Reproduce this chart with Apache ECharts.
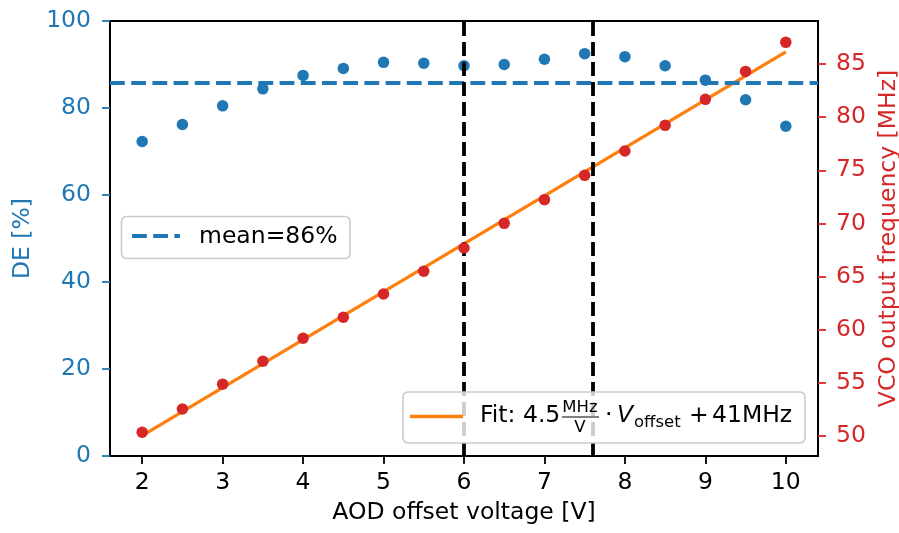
<!DOCTYPE html>
<html>
<head>
<meta charset="utf-8">
<title>AOD offset voltage sweep</title>
<script src="https://cdn.jsdelivr.net/npm/echarts@6/dist/echarts.min.js"></script>
<style>
  html, body { margin: 0; padding: 0; background: #ffffff; }
  #chart { width: 899px; height: 533px; }
</style>
</head>
<body>
<div id="chart"></div>
<script>
// Offset voltage applied to the AOD driver [V]
const voltage = [2, 2.5, 3, 3.5, 4, 4.5, 5, 5.5, 6, 6.5, 7, 7.5, 8, 8.5, 9, 9.5, 10];
// Diffraction efficiency at each voltage [%]
const deEfficiency = [72.3, 76.2, 80.5, 84.4, 87.5, 89.1, 90.5, 90.3, 89.7, 90.0, 91.2, 92.5, 91.8, 89.7, 86.4, 81.9, 75.8];
// Measured VCO output frequency [MHz]
const vcoFrequency = [50.35, 52.54, 54.88, 57.03, 59.2, 61.17, 63.36, 65.5, 67.69, 70.01, 72.24, 74.53, 76.82, 79.23, 81.68, 84.31, 87.04];
// Operating window boundaries [V]
const windowVoltages = [6, 7.6];
// Tick labels
const xTicks = [2, 3, 4, 5, 6, 7, 8, 9, 10];
const freqTicks = [50, 55, 60, 65, 70, 75, 80, 85];

const BLUE = '#1f77b4', RED = '#d62728', ORANGE = '#ff7f0e';
const FONT = 'DejaVu Sans';
const FS = 23.5;

// Mean efficiency
const meanDE = deEfficiency.reduce((a, b) => a + b, 0) / deEfficiency.length;

// Least-squares linear fit of frequency vs voltage
const n = voltage.length;
const mx = voltage.reduce((a, b) => a + b, 0) / n;
const my = vcoFrequency.reduce((a, b) => a + b, 0) / n;
let sxy = 0, sxx = 0;
for (let i = 0; i < n; i++) {
  sxy += (voltage[i] - mx) * (vcoFrequency[i] - my);
  sxx += (voltage[i] - mx) * (voltage[i] - mx);
}
const slope = sxy / sxx;
const intercept = my - slope * mx;
const xFirst = voltage[0], xLast = voltage[n - 1];
const fitLine = [[xFirst, slope * xFirst + intercept], [xLast, slope * xLast + intercept]];

const chart = echarts.init(document.getElementById('chart'), null, { renderer: 'canvas' });

const axisFont = { fontFamily: FONT, fontSize: FS };

// Legend boxes
const box = (x, y, w, h) => ({
  type: 'rect', shape: { x, y, width: w, height: h, r: 5 },
  style: { fill: 'rgba(255,255,255,0.8)', stroke: '#cccccc', lineWidth: 1.7 }, z: 20
});
const txt = (x, y, text, extra) => ({
  type: 'text', z: 21,
  style: Object.assign({ x, y, text, fill: '#000', fontFamily: FONT, fontSize: FS,
    align: 'left', verticalAlign: 'middle' }, extra || {})
});

const graphics = [
  box(121.5, 216.5, 228.5, 42),
  { type: 'line', z: 21, shape: { x1: 132, y1: 236, x2: 180, y2: 236 },
    style: { stroke: BLUE, lineWidth: 4, lineDash: [14.8, 6.4] } },
  txt(199, 237, 'mean=' + Math.round(meanDE) + '%'),

  box(403, 392, 402, 51),
  { type: 'line', z: 21, shape: { x1: 410, y1: 416.5, x2: 463, y2: 416.5 },
    style: { stroke: ORANGE, lineWidth: 3.3 } },
  txt(480, 416, 'Fit: ' + slope.toFixed(1)),
  txt(580, 408, 'MHz', { fontSize: 16.5, align: 'center' }),
  { type: 'line', z: 21, shape: { x1: 562, y1: 417, x2: 599, y2: 417 },
    style: { stroke: '#000', lineWidth: 1.2 } },
  txt(580, 427.5, 'V', { fontSize: 16.5, align: 'center' }),
  txt(605, 416, '\u00b7'),
  txt(617, 416, 'V', { fontStyle: 'italic' }),
  txt(634, 423, 'offset', { fontSize: 16.5 }),
  txt(689, 416, '+'),
  txt(712, 416, Math.round(intercept) + 'MHz')
];

chart.setOption({
  animation: false,
  backgroundColor: '#ffffff',
  grid: {
    left: 110, right: 81, top: 21, bottom: 77,
    containLabel: false, outerBoundsMode: 'none',
    show: true, borderColor: '#000', borderWidth: 2, backgroundColor: 'transparent'
  },
  xAxis: {
    type: 'value', min: 1.6, max: 10.4,
    name: 'AOD offset voltage [V]', nameLocation: 'middle', nameGap: 45,
    nameTextStyle: Object.assign({ color: '#000' }, axisFont),
    axisLine: { show: true, lineStyle: { color: '#000', width: 2 } },
    axisTick: { show: true, inside: false, length: 8, customValues: xTicks,
      lineStyle: { color: '#000', width: 1.8 } },
    axisLabel: Object.assign({ color: '#000', margin: 15, customValues: xTicks }, axisFont),
    splitLine: { show: false }
  },
  yAxis: [
    {
      type: 'value', min: 0, max: 100, interval: 20, position: 'left',
      name: 'DE [%]', nameLocation: 'middle', nameGap: 75, nameRotate: 90,
      nameTextStyle: Object.assign({ color: BLUE }, axisFont),
      axisLine: { show: true, lineStyle: { color: '#000', width: 2 } },
      axisTick: { show: true, inside: false, length: 8, lineStyle: { color: BLUE, width: 1.8 } },
      axisLabel: Object.assign({ color: BLUE, margin: 19 }, axisFont),
      splitLine: { show: false }
    },
    {
      type: 'value', min: 48.12, max: 89.05, position: 'right',
      name: 'VCO output frequency [MHz]', nameLocation: 'middle', nameGap: 58, nameRotate: 90,
      nameTextStyle: Object.assign({ color: RED }, axisFont),
      axisLine: { show: true, lineStyle: { color: '#000', width: 2 } },
      axisTick: { show: true, inside: false, length: 8, customValues: freqTicks,
        lineStyle: { color: RED, width: 1.8 } },
      axisLabel: Object.assign({ color: RED, margin: 18, customValues: freqTicks }, axisFont),
      splitLine: { show: false }
    }
  ],
  series: [
    {
      // reference lines: mean efficiency and operating window
      type: 'line', data: [], xAxisIndex: 0, yAxisIndex: 0, z: 1, silent: true,
      markLine: {
        silent: true, symbol: 'none', animation: false,
        label: { show: false },
        data: [
          { yAxis: meanDE, lineStyle: { color: BLUE, width: 4, type: [14.8, 6.4] } },
          ...windowVoltages.map(v => ({ xAxis: v, lineStyle: { color: '#000', width: 3.8, type: [14, 6] } }))
        ]
      }
    },
    {
      name: 'DE', type: 'scatter', xAxisIndex: 0, yAxisIndex: 0, z: 3,
      symbolSize: 11.5, itemStyle: { color: BLUE, opacity: 1 },
      data: voltage.map((v, i) => [v, deEfficiency[i]])
    },
    {
      name: 'Fit', type: 'line', xAxisIndex: 0, yAxisIndex: 1, z: 4,
      showSymbol: false, symbol: 'none',
      lineStyle: { color: ORANGE, width: 3.3 },
      data: fitLine
    },
    {
      name: 'VCO', type: 'scatter', xAxisIndex: 0, yAxisIndex: 1, z: 5,
      symbolSize: 11.5, itemStyle: { color: RED, opacity: 1 },
      data: voltage.map((v, i) => [v, vcoFrequency[i]])
    }
  ],
  graphic: graphics
});
</script>
</body>
</html>
